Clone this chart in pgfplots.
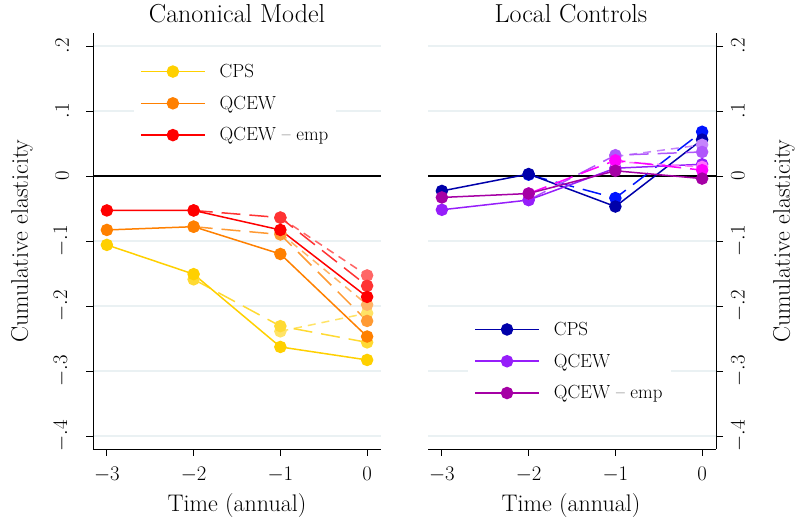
\documentclass[border=0pt]{standalone}
\usepackage{pgfplots}
\pgfplotsset{compat=1.18}

\definecolor{gridc}{RGB}{234,241,243}
\definecolor{cgold}{RGB}{255,208,0}
\definecolor{corange}{RGB}{255,128,0}
\definecolor{cred}{RGB}{255,0,0}
\definecolor{cnavy}{RGB}{0,0,170}
\definecolor{cblue}{RGB}{0,20,255}
\definecolor{cpurple}{RGB}{150,30,250}
\definecolor{cdmag}{RGB}{165,0,165}
\definecolor{cmag}{RGB}{255,0,255}

\pgfplotsset{
  panel/.style={
    width=288pt, height=416pt, scale only axis,
    xmin=-3.16, xmax=0.16, ymin=-0.42, ymax=0.22,
    xtick={-3,-2,-1,0},
    xticklabels={$-3$,$-2$,$-1$,$0$},
    ytick={-0.4,-0.3,-0.2,-0.1,0,0.1,0.2},
    yticklabels={$-.4$,$-.3$,$-.2$,$-.1$,$0$,$.1$,$.2$},
    axis x line*=bottom,
    axis line style={-, black, line width=0.9pt},
    tick align=outside, major tick length=7pt,
    tick style={black, line width=0.9pt},
    ymajorgrids, grid style={gridc, line width=1.8pt},
    x tick label style={font=\fontsize{21}{21}\selectfont, inner ysep=11pt},
    y tick label style={font=\fontsize{21}{21}\selectfont, rotate=90},
    legend cell align=left,
    legend image code/.code={
      \draw[#1, mark=none, line width=1.6pt] (0pt,0pt) -- (64pt,0pt);
      \draw[#1, mark repeat=2, mark phase=2, draw opacity=0] plot coordinates {(0pt,0pt) (32pt,0pt) (64pt,0pt)};
    },
    legend style={draw=none, fill=white, anchor=north west, row sep=13pt, column sep=12pt,
      font=\fontsize{19}{19}\selectfont, inner xsep=6pt, inner ysep=4pt},
    ser/.style={line width=1.5pt, mark=*, mark size=5.5pt, mark options={solid, draw opacity=1}},
    longd/.style={ser, dash pattern=on 19pt off 9pt},
    shortd/.style={ser, dash pattern=on 8pt off 6pt},
  }
}

\begin{document}
\begin{tikzpicture}[x=1pt,y=1pt]
\useasboundingbox (0,0) rectangle (796,521);

% left panel
\begin{axis}[panel, at={(93pt,72pt)}, anchor=south west,
  axis y line*=left,
  y tick label style={anchor=south, inner ysep=17pt},
  legend style={at={(0.142,0.94)}}]
\addplot[black, line width=1.1pt, no marks, forget plot] coordinates {(-3.16,0) (0.16,0)};
% CPS
\addplot[cgold!60!white, shortd, forget plot] coordinates {(-1,-0.239) (0,-0.211)};
\addplot[cgold!80!white, longd, forget plot] coordinates {(-2,-0.159) (-1,-0.231) (0,-0.256)};
\addplot[cgold, ser] coordinates {(-3,-0.106) (-2,-0.151) (-1,-0.263) (0,-0.283)};
\addlegendentry{CPS}
% QCEW
\addplot[corange!60!white, shortd, forget plot] coordinates {(-1,-0.088) (0,-0.198)};
\addplot[corange!80!white, longd, forget plot] coordinates {(-2,-0.078) (-1,-0.090) (0,-0.223)};
\addplot[corange, ser] coordinates {(-3,-0.083) (-2,-0.078) (-1,-0.120) (0,-0.247)};
\addlegendentry{QCEW}
% QCEW - emp
\addplot[cred!60!white, shortd, forget plot] coordinates {(-1,-0.064) (0,-0.153)};
\addplot[cred!80!white, longd, forget plot] coordinates {(-2,-0.053) (-1,-0.064) (0,-0.169)};
\addplot[cred, ser] coordinates {(-3,-0.053) (-2,-0.053) (-1,-0.083) (0,-0.186)};
\addlegendentry{QCEW -- emp}
\end{axis}

% right panel
\begin{axis}[panel, at={(428pt,72pt)}, anchor=south west,
  axis y line*=right,
  y tick label style={anchor=north, inner ysep=8pt},
  legend style={at={(0.139,0.32)}}]
\addplot[black, line width=1.1pt, no marks, forget plot] coordinates {(-3.16,0) (0.16,0)};
% CPS
\addplot[cblue, longd, forget plot] coordinates {(-2,0.002) (-1,-0.034) (0,0.068)};
\addplot[cnavy, ser] coordinates {(-3,-0.023) (-2,0.003) (-1,-0.047) (0,0.056)};
\addlegendentry{CPS}
% QCEW
\addplot[cpurple!55!white, shortd, forget plot] coordinates {(-1,0.030) (0,0.048)};
\addplot[cpurple!75!white, longd, forget plot] coordinates {(-2,-0.037) (-1,0.032) (0,0.037)};
\addplot[cpurple, ser] coordinates {(-3,-0.052) (-2,-0.037) (-1,0.012) (0,0.018)};
\addlegendentry{QCEW}
% QCEW - emp
\addplot[cmag!55!white, shortd, forget plot] coordinates {(-1,0.022) (0,0.014)};
\addplot[cmag, longd, forget plot] coordinates {(-2,-0.027) (-1,0.024) (0,0.009)};
\addplot[cdmag, ser] coordinates {(-3,-0.033) (-2,-0.027) (-1,0.008) (0,-0.004)};
\addlegendentry{QCEW -- emp}
\end{axis}

\node[anchor=base, font=\fontsize{26}{26}\selectfont] at (237,498) {Canonical Model};
\node[anchor=base, font=\fontsize{26}{26}\selectfont] at (571,498) {Local Controls};
\node[anchor=base, font=\fontsize{24}{24}\selectfont] at (237,9) {Time (annual)};
\node[anchor=base, font=\fontsize{24}{24}\selectfont] at (571,9) {Time (annual)};
\node[rotate=90, font=\fontsize{24}{24}\selectfont] at (22,280) {Cumulative elasticity};
\node[rotate=90, font=\fontsize{24}{24}\selectfont] at (784,280) {Cumulative elasticity};
\end{tikzpicture}
\end{document}
